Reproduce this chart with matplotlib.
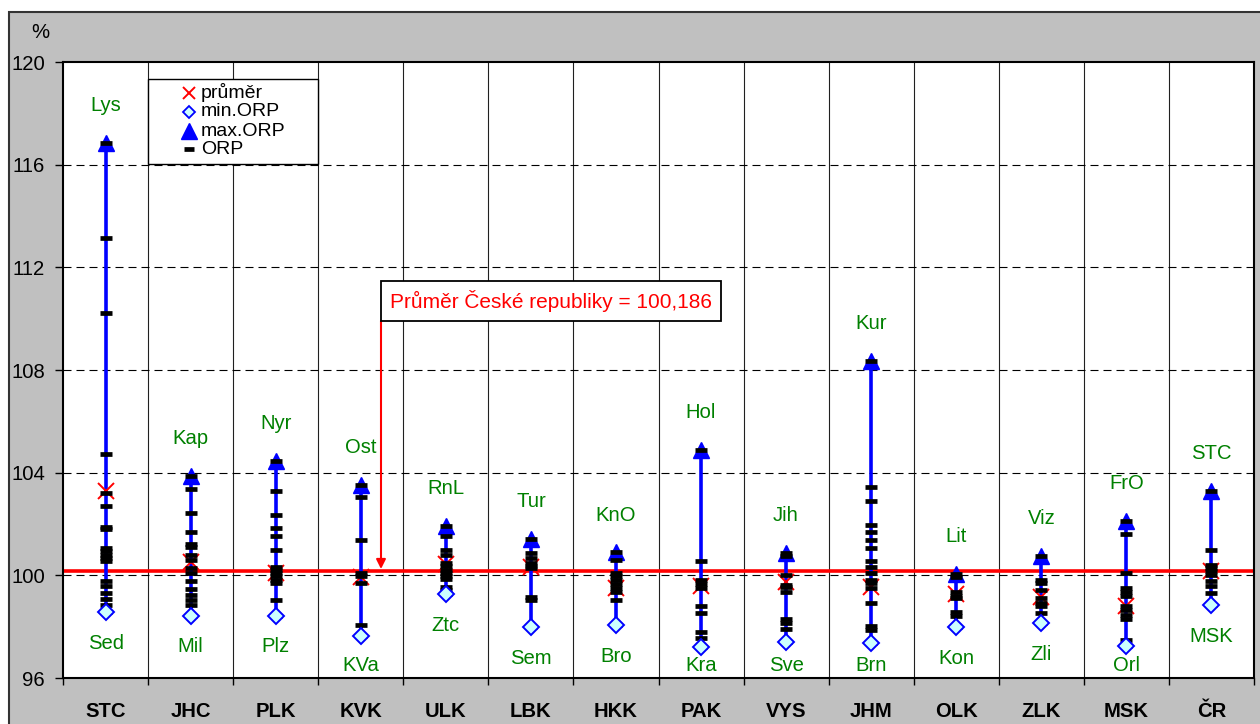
import numpy as np
import matplotlib
matplotlib.use("Agg")
import matplotlib.pyplot as plt
from matplotlib.patches import Rectangle

plt.rcParams['font.family'] = ['Liberation Sans', 'DejaVu Sans']

# ---------------- data ----------------
regions = ['STC', 'JHC', 'PLK', 'KVK', 'ULK', 'LBK', 'HKK', 'PAK', 'VYS', 'JHM', 'OLK', 'ZLK', 'MSK', 'ČR']
max_names = ['Lys', 'Kap', 'Nyr', 'Ost', 'RnL', 'Tur', 'KnO', 'Hol', 'Jih', 'Kur', 'Lit', 'Viz', 'FrO', 'STC']
min_names = ['Sed', 'Mil', 'Plz', 'KVa', 'Ztc', 'Sem', 'Bro', 'Kra', 'Sve', 'Brn', 'Kon', 'Zli', 'Orl', 'MSK']
max_vals = [116.85, 103.87, 104.45, 103.52, 101.94, 101.40, 100.89, 104.89, 100.86, 108.36, 100.05, 100.74, 102.10, 103.30]
min_vals = [98.57, 98.43, 98.43, 97.65, 99.26, 97.98, 98.07, 97.22, 97.42, 97.35, 97.97, 98.13, 97.26, 98.85]
mean_vals = [103.30, 100.52, 100.08, 99.94, 100.43, 100.31, 99.52, 99.60, 99.75, 99.55, 99.28, 99.15, 98.82, 100.186]
orp_vals = [
    [116.85, 113.14, 110.23, 104.74, 103.20, 102.69, 101.90, 101.80, 101.07, 100.93, 100.80, 100.67, 100.54,
     99.76, 99.57, 99.33, 99.07, 98.85, 98.57],
    [103.87, 103.37, 102.43, 101.68, 101.23, 101.10, 100.80, 100.60, 100.28, 100.09, 99.76, 99.46, 99.24, 99.05, 98.85, 98.43],
    [104.45, 103.30, 102.37, 101.85, 101.55, 101.00, 100.32, 100.19, 100.09, 99.96, 99.83, 99.70, 99.02, 98.43],
    [103.52, 103.06, 101.37, 100.09, 99.96, 99.72, 98.07, 97.65],
    [101.94, 101.53, 100.97, 100.80, 100.50, 100.35, 100.22, 100.09, 99.96, 99.85, 99.54, 99.44, 99.26],
    [101.40, 100.87, 100.68, 100.48, 100.38, 100.28, 99.14, 99.02, 97.98],
    [100.89, 100.61, 100.09, 99.96, 99.83, 99.67, 99.50, 99.35, 99.02, 98.07],
    [104.89, 100.55, 99.83, 99.67, 99.50, 98.79, 98.53, 97.81, 97.57, 97.22],
    [100.86, 100.74, 100.02, 99.63, 99.54, 99.37, 98.28, 98.13, 97.90, 97.42],
    [108.36, 103.45, 102.89, 101.98, 101.68, 101.37, 101.07, 100.55, 100.32, 100.11, 99.83, 99.70, 99.50,
     98.91, 98.03, 97.88, 97.35],
    [100.05, 99.93, 99.37, 99.20, 99.10, 98.59, 98.42, 97.97],
    [100.74, 99.83, 99.70, 99.44, 99.11, 98.94, 98.79, 98.55, 98.13],
    [102.10, 101.61, 100.11, 99.50, 99.37, 99.18, 98.79, 98.66, 98.46, 98.29, 97.48, 97.26],
    [103.30, 101.00, 100.41, 100.28, 100.15, 100.02, 99.76, 99.57, 99.30, 98.85],
]
cr_mean = 100.186
cr_text = 'Průměr České republiky = 100,186'
y_ticks = [96, 100, 104, 108, 112, 116, 120]
legend_labels = ['průměr', 'min.ORP', 'max.ORP', 'ORP']

# ---------------- figure ----------------
W, H = 1260, 724
fig = plt.figure(figsize=(W / 100, H / 100), dpi=100, facecolor='white')
bg = Rectangle((9 / W, -0.05), 1.2, (H - 12) / H + 0.05, transform=fig.transFigure,
               facecolor='#C0C0C0', edgecolor='#333333', linewidth=1.5, zorder=-10)
fig.patches.append(bg)

ax = fig.add_axes([63 / W, 46 / H, 1191 / W, 616 / H])
ax.set_zorder(1)
ax.set_facecolor('white')
n = len(regions)
x = np.arange(n)
ax.set_xlim(-0.5, n - 0.5)
ax.set_ylim(96, 120)

green = '#008000'
blue = '#0000FF'
fs = 14.6

# grid
for b in np.arange(0.5, n - 0.5, 1):
    ax.axvline(b, color='#202020', lw=0.8, zorder=1)
for yt in y_ticks[1:-1]:
    ax.axhline(yt, color='black', lw=0.8, ls=(0, (7.2, 4.5)), zorder=1)

# average of CR
ax.axhline(cr_mean, color='red', lw=2.6, zorder=1.5)

for i in range(n):
    ax.plot([x[i], x[i]], [min_vals[i], max_vals[i]], color=blue, lw=2.6, zorder=2, solid_capstyle='butt')
    ax.plot([x[i]], [max_vals[i]], marker='^', ms=11.5, color=blue, mec=blue, zorder=3, ls='none')
    ax.plot([x[i]], [mean_vals[i]], marker='x', ms=11, mew=1.4, color='red', zorder=3.5, ls='none')
    ax.plot([x[i]] * len(orp_vals[i]), orp_vals[i], marker='_', ms=8.5, mew=3.4, color='black',
            zorder=4, ls='none')
    ax.plot([x[i]], [min_vals[i]], marker='D', ms=8, mew=1.4, mfc='#CCFFFF', mec=blue, zorder=5, ls='none')
    ax.text(x[i], max_vals[i] + 1.46, max_names[i], ha='center', va='center', color=green, fontsize=fs, zorder=6)
    ax.text(x[i], max(min_vals[i] - 1.22, 96.5), min_names[i], ha='center', va='center', color=green,
            fontsize=fs, zorder=6)

# annotation
ax.text(5.236, 110.69, cr_text, ha='center', va='center', color='red', fontsize=15, zorder=8,
        bbox=dict(boxstyle='square,pad=0.45', facecolor='white', edgecolor='black', linewidth=1.3))
ax.annotate('', xy=(3.238, cr_mean + 0.06), xytext=(3.238, 109.92),
            arrowprops=dict(arrowstyle='-|>', color='red', lw=1.5, mutation_scale=14, shrinkA=0, shrinkB=0),
            zorder=7)

# axes styling
for s in ax.spines.values():
    s.set_linewidth(1.5)
    s.set_color('black')
    s.set_zorder(9)
ax.set_yticks(y_ticks)
ax.set_yticklabels([str(v) for v in y_ticks], fontsize=fs)
ax.tick_params(axis='y', direction='out', length=6, width=1, pad=7)
ax.set_xticks(np.arange(-0.5, n, 1))
ax.set_xticklabels([])
ax.tick_params(axis='x', which='major', direction='out', length=5, width=1)
ax.set_xticks(x, minor=True)
ax.set_xticklabels(regions, minor=True, fontsize=fs, fontweight='bold')
ax.tick_params(axis='x', which='minor', length=0, pad=17)

fig.text(40 / W, 1 - 32 / H, '%', ha='center', va='center', fontsize=fs)

# legend (manual, Excel-like)
def ax_xy(px, py):
    return (px - 63) / 1191, (678 - py) / 616

lx0, ly0 = ax_xy(148, 164)
lx1, ly1 = ax_xy(318, 79)
ax.add_patch(Rectangle((lx0, ly0), lx1 - lx0, ly1 - ly0, transform=ax.transAxes, facecolor='white',
                       edgecolor='black', linewidth=1.0, zorder=10))
rows = [93, 112, 131, 149]
styles = [dict(marker='x', ms=9, mew=1.4, color='red'),
          dict(marker='D', ms=6.5, mew=1.3, mfc='#CCFFFF', mec=blue, color=blue),
          dict(marker='^', ms=11, color=blue),
          dict(marker='_', ms=7, mew=3.4, color='black')]
for lab, py, st in zip(legend_labels, rows, styles):
    mx, my = ax_xy(189, py)
    ax.plot([mx], [my], transform=ax.transAxes, ls='none', zorder=11, clip_on=False, **st)
    tx, ty = ax_xy(201, py)
    ax.text(tx, ty, lab, transform=ax.transAxes, ha='left', va='center', fontsize=14, zorder=11)

fig.savefig('out.png', dpi=100, facecolor='white')
